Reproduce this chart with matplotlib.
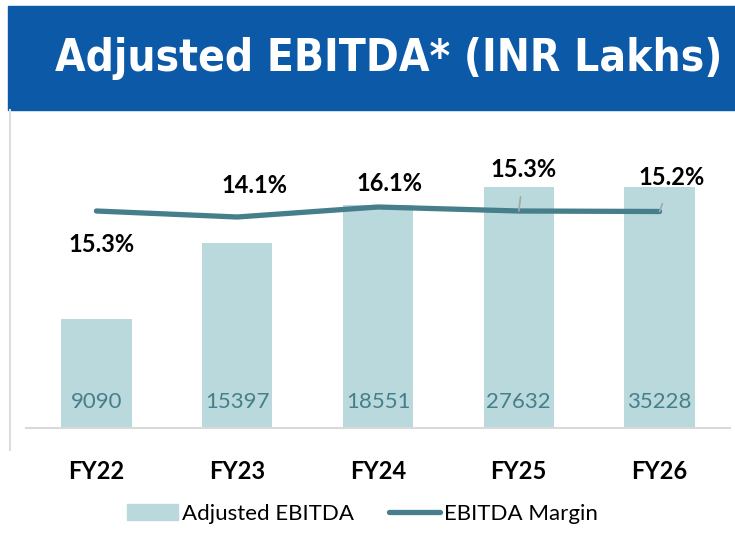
import matplotlib.pyplot as plt
from matplotlib.patches import Rectangle, Patch
from matplotlib.lines import Line2D

years = ['FY22', 'FY23', 'FY24', 'FY25', 'FY26']
ebitda = [9090, 15397, 18551, 27632, 35228]
margin = [15.3, 14.1, 16.1, 15.3, 15.2]
margin_labels = ['15.3%', '14.1%', '16.1%', '15.3%', '15.2%']

bar_col = '#b9d9dc'
line_col = '#467f8b'
lab_font = ['Lato', 'DejaVu Sans']

fig = plt.figure(figsize=(7.35, 5.39), dpi=100)

# bandeau du titre
fig.patches.append(Rectangle((8/735, 1-110/539), 1, 104/539, transform=fig.transFigure,
                             color='#0c5aa7', zorder=0))
fig.lines.append(Line2D([10/735, 10/735], [1-110/539, 1-450/539], transform=fig.transFigure,
                        color='#dddddd', lw=1.5))
title = fig.text(55/735, 1-58/539, 'Adjusted EBITDA* (INR Lakhs)', color='white',
                 fontsize=34, fontweight='bold', va='center', ha='left',
                 family='DejaVu Sans', fontstretch='condensed')

ax = fig.add_axes([26/735, 1-428/539, 704/735, 241/539])
x = range(len(years))
ax.bar(x, ebitda, width=0.5, color=bar_col, zorder=1)
ax.set_ylim(0, 20050)
ax.set_xlim(-0.5, 4.5)
for s in ['top', 'right', 'left']:
    ax.spines[s].set_visible(False)
ax.spines['bottom'].set_color('#d9d9d9')
ax.spines['bottom'].set_linewidth(1.5)
ax.set_yticks([])
ax.set_xticks(list(x))
ax.set_xticklabels(years, fontsize=17, fontweight='bold', family=lab_font)
ax.tick_params(axis='x', length=0, pad=23)

for i, v in enumerate(ebitda):
    ax.annotate(str(v), (i, 0), xytext=(0, 26), textcoords='offset pixels',
                ha='center', va='center', color=line_col, fontsize=16, family=lab_font)

ax2 = ax.twinx()
ax2.plot(list(x), margin, color=line_col, lw=3.8, solid_capstyle='round', zorder=3)
ax2.set_ylim(-28.1, 20.1)
ax2.set_yticks([])
for s in ax2.spines.values():
    s.set_visible(False)

offsets = [(5, -34), (17, 31), (11, 23), (5, 41), (12, 34)]
for i, (m, lab) in enumerate(zip(margin, margin_labels)):
    kw = {}
    if i >= 3:
        kw['arrowprops'] = dict(arrowstyle='-', color='#a6a6a6', lw=1.2, shrinkA=9, shrinkB=0)
    ax2.annotate(lab, (i, m), xytext=offsets[i], textcoords='offset pixels',
                 ha='center', va='center', fontsize=17, fontweight='bold',
                 family=lab_font, **kw)

handles = [Patch(color=bar_col), Line2D([], [], color=line_col, lw=3.8, solid_capstyle='round')]
fig.legend(handles, ['Adjusted EBITDA', 'EBITDA Margin'], loc='center',
           bbox_to_anchor=(0.493, 1-514/539), ncol=2, frameon=False,
           prop={'family': lab_font, 'size': 16}, handlelength=2.3,
           handletextpad=0.15, columnspacing=1.6)

# ajuster la taille du titre a la largeur voulue
fig.canvas.draw()
w = title.get_window_extent().width
title.set_fontsize(34 * 667 / w)

fig.savefig('out.png', dpi=100)
